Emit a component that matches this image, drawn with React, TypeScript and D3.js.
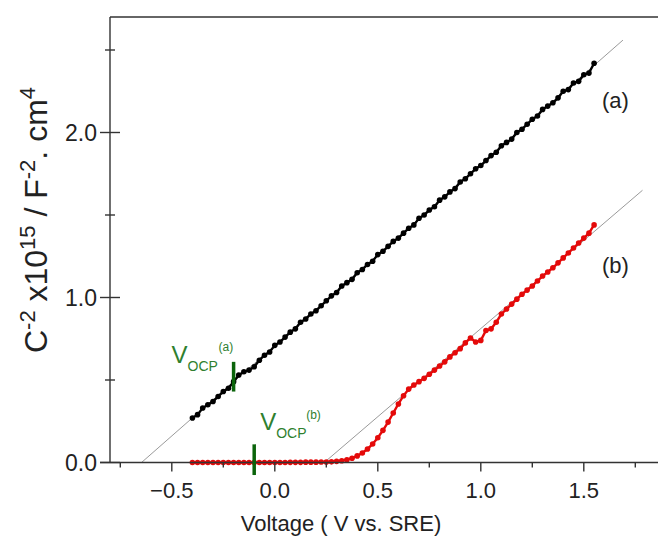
import React from "react";
import * as d3 from "d3";

const voltage = [
  -0.4, -0.375, -0.35, -0.325, -0.3, -0.275, -0.25, -0.225, -0.2, -0.175,
  -0.15, -0.125, -0.1, -0.075, -0.05, -0.025, 0, 0.025, 0.05, 0.075,
  0.1, 0.125, 0.15, 0.175, 0.2, 0.225, 0.25, 0.275, 0.3, 0.325,
  0.35, 0.375, 0.4, 0.425, 0.45, 0.475, 0.5, 0.525, 0.55, 0.575,
  0.6, 0.625, 0.65, 0.675, 0.7, 0.725, 0.75, 0.775, 0.8, 0.825,
  0.85, 0.875, 0.9, 0.925, 0.95, 0.975, 1.0, 1.025, 1.05, 1.075,
  1.1, 1.125, 1.15, 1.175, 1.2, 1.225, 1.25, 1.275, 1.3, 1.325,
  1.35, 1.375, 1.4, 1.425, 1.45, 1.475, 1.5, 1.525, 1.55,
];

const seriesA = [
  0.27, 0.29, 0.33, 0.35, 0.37, 0.4, 0.43, 0.45, 0.49, 0.53,
  0.55, 0.56, 0.58, 0.62, 0.65, 0.67, 0.71, 0.73, 0.76, 0.79,
  0.81, 0.85, 0.87, 0.9, 0.92, 0.95, 0.98, 1.01, 1.03, 1.07,
  1.09, 1.11, 1.15, 1.17, 1.2, 1.22, 1.26, 1.28, 1.31, 1.34,
  1.36, 1.39, 1.42, 1.44, 1.48, 1.5, 1.53, 1.55, 1.59, 1.61,
  1.64, 1.66, 1.7, 1.72, 1.75, 1.78, 1.8, 1.83, 1.86, 1.88,
  1.92, 1.94, 1.96, 2.0, 2.02, 2.05, 2.08, 2.1, 2.14, 2.16,
  2.18, 2.21, 2.25, 2.26, 2.3, 2.31, 2.35, 2.36, 2.42,
];

const seriesB = [
  0, 0, 0, 0, 0, 0, 0, 0, 0, 0,
  0, 0, 0, 0, 0, 0, 0, 0, 0, 0.001,
  0.001, 0.001, 0.002, 0.002, 0.002, 0.003, 0.003, 0.004, 0.007, 0.011,
  0.017, 0.026, 0.04, 0.058, 0.082, 0.112, 0.15, 0.195, 0.245, 0.3,
  0.355, 0.405, 0.445, 0.47, 0.49, 0.51, 0.535, 0.56, 0.585, 0.61,
  0.64, 0.665, 0.69, 0.725, 0.755, 0.73, 0.74, 0.8, 0.81, 0.85,
  0.9, 0.93, 0.96, 0.99, 1.02, 1.045, 1.07, 1.1, 1.13, 1.155,
  1.18, 1.21, 1.24, 1.27, 1.3, 1.33, 1.36, 1.39, 1.44,
];

const fitAX = [-0.647, 1.69];
const fitAY = [0, 2.56];
const fitBX = [0.24, 1.785];
const fitBY = [0, 1.65];

const xMajorTicks = [-0.5, 0, 0.5, 1, 1.5];
const xMinorTicks = [-0.75, -0.25, 0.25, 0.75, 1.25, 1.75];
const yMajorTicks = [0, 1, 2];
const yMinorTicks = [0.5, 1.5, 2.5];

const ocpA = -0.2;
const ocpAY = [0.43, 0.61];
const ocpB = -0.1;
const ocpBY = [-0.076, 0.11];

const FONT = "'Liberation Sans', Arial, Helvetica, sans-serif";
const GREEN_TEXT = "#2f7f2f";
const GREEN_BAR = "#0b640b";
const RED = "#e40a0a";

export default function App() {
  const x = d3.scaleLinear().domain([-0.8, 1.9]).range([110, 666.2]);
  const y = d3.scaleLinear().domain([0, 2.7]).range([462.5, 17]);
  const fmt = d3.format(".1f");

  const line = d3
    .line<number>()
    .x((_, i) => x(voltage[i]))
    .y((d) => y(d));

  const fitLine = (xs: number[], ys: number[]) =>
    d3.line<number>().x((d) => x(d)).y((_, i) => y(ys[i]))(xs) || "";

  const x0 = x.range()[0];
  const yBottom = y(0);
  const yTop = y.range()[1];

  return (
    <div style={{ position: "absolute", left: 0, top: 0 }}>
      <svg width={658} height={537} style={{ display: "block", background: "#fff" }} fontFamily={FONT}>
        {/* fit lines */}
        <path d={fitLine(fitAX, fitAY)} stroke="#9a9a9a" strokeWidth={1} fill="none" />
        <path d={fitLine(fitBX, fitBY)} stroke="#9a9a9a" strokeWidth={1} fill="none" />

        {/* series (a) */}
        <path d={line(seriesA) || ""} stroke="#000" strokeWidth={2.4} fill="none" />
        {seriesA.map((d, i) => (
          <circle key={"a" + i} cx={x(voltage[i])} cy={y(d)} r={2.8} fill="#000" />
        ))}

        {/* series (b) */}
        <path d={line(seriesB) || ""} stroke={RED} strokeWidth={2.4} fill="none" />
        {seriesB.map((d, i) => (
          <circle key={"b" + i} cx={x(voltage[i])} cy={y(d)} r={2.8} fill={RED} />
        ))}

        {/* frame */}
        <line x1={x0} x2={658} y1={yTop} y2={yTop} stroke="#333" strokeWidth={1.4} />
        <line x1={x0} x2={x0} y1={yTop} y2={yBottom} stroke="#333" strokeWidth={1.4} />
        <line x1={x0 - 10} x2={658} y1={yBottom} y2={yBottom} stroke="#333" strokeWidth={1.4} />

        {/* x ticks */}
        {xMajorTicks.map((t) => (
          <g key={"xm" + t}>
            <line x1={x(t)} x2={x(t)} y1={yBottom} y2={yBottom + 9} stroke="#333" strokeWidth={1.4} />
            <text x={x(t)} y={yBottom + 35} textAnchor="middle" fontSize={22} fill="#222">
              {fmt(t)}
            </text>
          </g>
        ))}
        {xMinorTicks.map((t) => (
          <line key={"xn" + t} x1={x(t)} x2={x(t)} y1={yBottom} y2={yBottom + 5} stroke="#333" strokeWidth={1.4} />
        ))}

        {/* y ticks */}
        {yMajorTicks.map((t) => (
          <g key={"ym" + t}>
            <line x1={x0 - 10} x2={x0 + 10} y1={y(t)} y2={y(t)} stroke="#333" strokeWidth={1.4} />
            <text x={x0 - 13} y={y(t) + 8} textAnchor="end" fontSize={23} fill="#222">
              {fmt(t)}
            </text>
          </g>
        ))}
        {yMinorTicks.map((t) => (
          <line key={"yn" + t} x1={x0 - 5} x2={x0 + 5} y1={y(t)} y2={y(t)} stroke="#333" strokeWidth={1.4} />
        ))}

        {/* axis titles */}
        <text x={341} y={531} textAnchor="middle" fontSize={22} fill="#222">
          Voltage ( V vs. SRE)
        </text>
        <text transform="translate(47,220) rotate(-90)" textAnchor="middle" fontSize={32} fill="#222">
          <tspan>C</tspan>
          <tspan dy={-12} fontSize={22}>-2</tspan>
          <tspan dy={12}>{" x10"}</tspan>
          <tspan dy={-12} fontSize={22}>15</tspan>
          <tspan dy={12}>{" / F"}</tspan>
          <tspan dy={-12} fontSize={22}>-2</tspan>
          <tspan dy={12}>{". cm"}</tspan>
          <tspan dy={-12} fontSize={22}>4</tspan>
        </text>

        {/* series labels */}
        <text x={602} y={108} fontSize={22} fill="#222">(a)</text>
        <text x={602} y={273} fontSize={22} fill="#222">(b)</text>

        {/* OCP markers */}
        <line x1={x(ocpA)} x2={x(ocpA)} y1={y(ocpAY[0])} y2={y(ocpAY[1])} stroke={GREEN_BAR} strokeWidth={3.5} />
        <line x1={x(ocpB)} x2={x(ocpB)} y1={y(ocpBY[0])} y2={y(ocpBY[1])} stroke={GREEN_BAR} strokeWidth={3.5} />

        <g fill={GREEN_TEXT}>
          <text x={x(ocpA) - 62} y={363} fontSize={24}>V</text>
          <text x={x(ocpA) - 46} y={371} fontSize={14}>OCP</text>
          <text x={x(ocpA) - 15} y={351} fontSize={12}>(a)</text>

          <text x={x(ocpB) + 6} y={430} fontSize={24}>V</text>
          <text x={x(ocpB) + 22} y={438} fontSize={14}>OCP</text>
          <text x={x(ocpB) + 52} y={419} fontSize={12}>(b)</text>
        </g>
      </svg>
    </div>
  );
}
